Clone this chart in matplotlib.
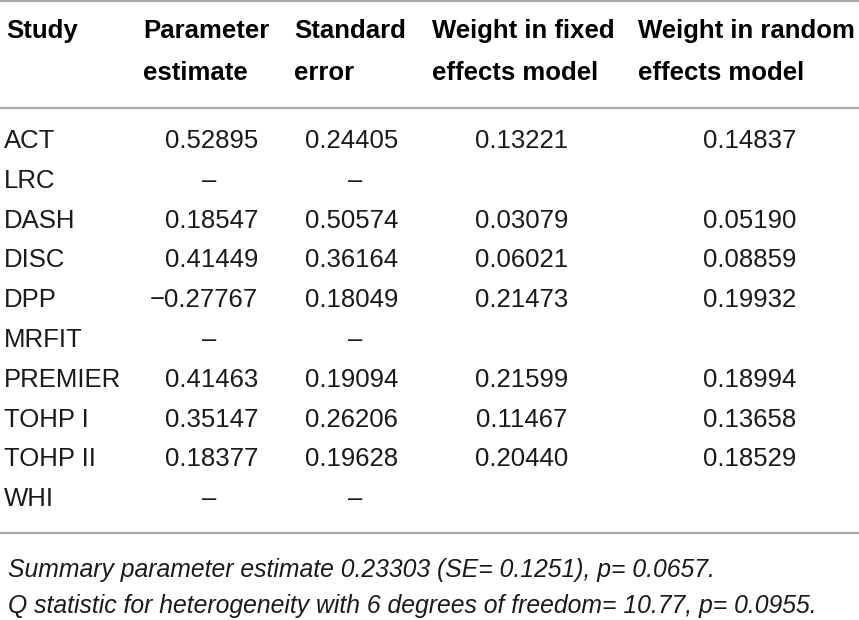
import matplotlib.pyplot as plt

studies = ['ACT', 'LRC', 'DASH', 'DISC', 'DPP', 'MRFIT', 'PREMIER', 'TOHP I', 'TOHP II', 'WHI']
estimates = ['0.52895', '–', '0.18547', '0.41449', '−0.27767', '–', '0.41463', '0.35147', '0.18377', '–']
std_errors = ['0.24405', '–', '0.50574', '0.36164', '0.18049', '–', '0.19094', '0.26206', '0.19628', '–']
w_fixed = ['0.13221', '', '0.03079', '0.06021', '0.21473', '', '0.21599', '0.11467', '0.20440', '']
w_random = ['0.14837', '', '0.05190', '0.08859', '0.19932', '', '0.18994', '0.13658', '0.18529', '']
headers = [('Study', ''), ('Parameter', 'estimate'), ('Standard', 'error'),
           ('Weight in fixed', 'effects model'), ('Weight in random', 'effects model')]
notes = ['Summary parameter estimate 0.23303 (SE= 0.1251), p= 0.0657.',
         'Q statistic for heterogeneity with 6 degrees of freedom= 10.77, p= 0.0955.']

W, H = 859, 620
fig = plt.figure(figsize=(W / 100, H / 100), dpi=100)
ax = fig.add_axes([0, 0, 1, 1])
ax.set_xlim(0, W)
ax.set_ylim(H, 0)
ax.axis('off')

FONT = 'Liberation Sans'
FS = 18.5
BODY = '#1a1a1a'
RULE = '#aaaaaa'

# rules
for y in (1, 108, 533):
    ax.plot([0, W], [y, y], color=RULE, lw=1.6, solid_capstyle='butt')

# header
head_x = [6, 143, 294, 432, 638]
for x, (l1, l2) in zip(head_x, headers):
    ax.text(x, 38, l1, fontsize=FS, fontweight='bold', family=FONT, va='baseline', ha='left', color='black')
    if l2:
        ax.text(x, 80, l2, fontsize=FS, fontweight='bold', family=FONT, va='baseline', ha='left', color='black')

# body rows
y0, dy = 148, 39.8
for i, s in enumerate(studies):
    y = y0 + i * dy
    ax.text(4, y, s, fontsize=FS, family=FONT, va='baseline', ha='left', color=BODY)
    for val, xr, xc in ((estimates[i], 258, 209), (std_errors[i], 398, 355)):
        if val == '–':
            ax.text(xc, y, val, fontsize=FS, family=FONT, va='baseline', ha='center', color=BODY)
        else:
            ax.text(xr, y, val, fontsize=FS, family=FONT, va='baseline', ha='right', color=BODY)
    ax.text(522, y, w_fixed[i], fontsize=FS, family=FONT, va='baseline', ha='center', color=BODY)
    ax.text(750, y, w_random[i], fontsize=FS, family=FONT, va='baseline', ha='center', color=BODY)

# footnotes
for y, n in zip((577, 613), notes):
    ax.text(8, y, n, fontsize=17.8, style='italic', family=FONT, va='baseline', ha='left', color=BODY)

fig.savefig('out.png', dpi=100)
